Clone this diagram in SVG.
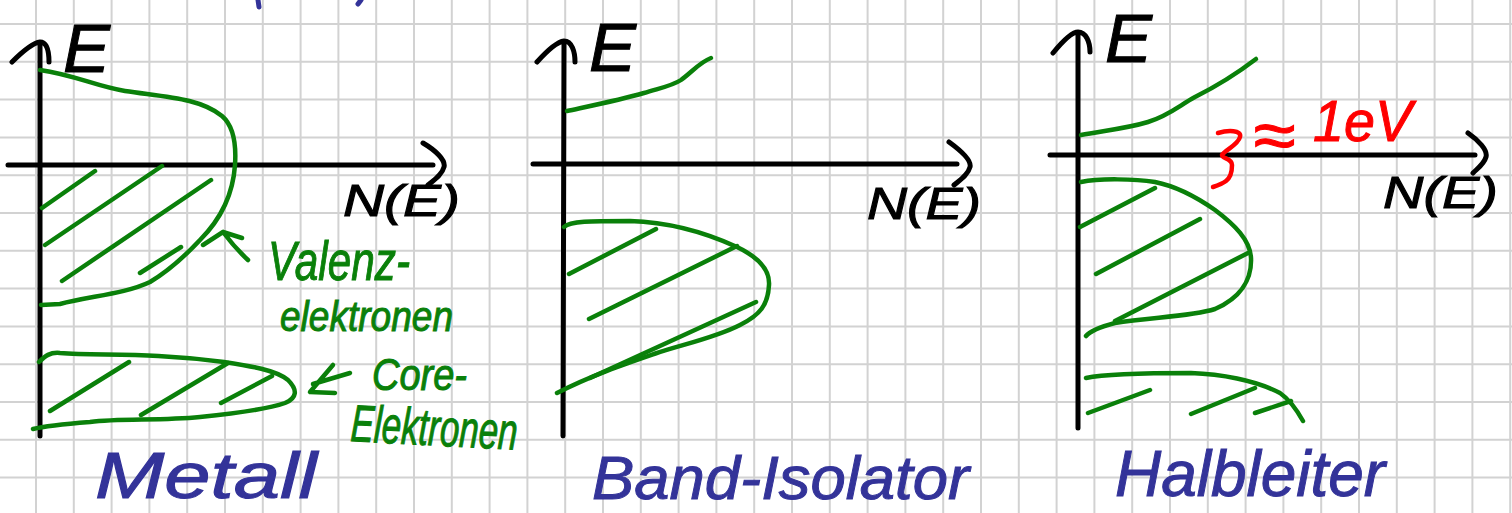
<svg xmlns="http://www.w3.org/2000/svg" width="1512" height="513" viewBox="0 0 1512 513">
<style>
.grid{fill:none;stroke:#d2d2d2;stroke-width:2}
.ax{fill:none;stroke:#000;stroke-width:5;stroke-linecap:round;stroke-linejoin:round}
.gr{fill:none;stroke:#0a800a;stroke-width:4.5;stroke-linecap:round;stroke-linejoin:round}
.rd{fill:none;stroke:#ff0000;stroke-width:4.5;stroke-linecap:round;stroke-linejoin:round}
.bl{fill:none;stroke:#333399;stroke-width:5;stroke-linecap:round}
.tk{font-family:"Liberation Sans","DejaVu Sans",sans-serif;font-style:italic;fill:#000;stroke:#000;stroke-width:1}
.tg{font-family:"Liberation Sans","DejaVu Sans",sans-serif;font-style:italic;fill:#0a800a;stroke:#0a800a;stroke-width:1}
.tb{font-family:"Liberation Sans","DejaVu Sans",sans-serif;font-style:italic;fill:#333399;stroke:#333399;stroke-width:1}
.tr{font-family:"Liberation Sans","DejaVu Sans",sans-serif;font-style:italic;fill:#ff0000;stroke:#ff0000;stroke-width:1}
</style>
<rect x="0" y="0" width="1512" height="513" fill="#ffffff"/>
<path class="grid" d="M36 0V513M73.8 0V513M111.6 0V513M149.4 0V513M187.2 0V513M225 0V513M262.8 0V513M300.6 0V513M338.4 0V513M376.2 0V513M414 0V513M451.8 0V513M489.6 0V513M527.4 0V513M565.2 0V513M603 0V513M640.8 0V513M678.6 0V513M716.4 0V513M754.2 0V513M792 0V513M829.8 0V513M867.6 0V513M905.4 0V513M943.2 0V513M981 0V513M1018.8 0V513M1056.6 0V513M1094.4 0V513M1132.2 0V513M1170 0V513M1207.8 0V513M1245.6 0V513M1283.4 0V513M1321.2 0V513M1359 0V513M1396.8 0V513M1434.6 0V513M1472.4 0V513M1510.2 0V513M0 24H1512M0 61.8H1512M0 99.6H1512M0 137.4H1512M0 175.2H1512M0 213H1512M0 250.8H1512M0 288.6H1512M0 326.4H1512M0 364.2H1512M0 402H1512M0 439.8H1512M0 477.6H1512"/>
<path class="bl" d="M258,0 L259,7 M358,4 L361,0"/>

<g id="metall">
  <g id="metall-axes">
    <path class="ax" d="M40,436 L40,44 M12,62 C22,52 32,43 40,42 C47,42 49,52 49,62"/>
    <path class="ax" d="M8,165 L433,165 M423,143 C435,150 446,160 444,167 C442,175 434,180 428,185"/>
    <text class="tk" x="63" y="72" font-size="68" textLength="47" lengthAdjust="spacingAndGlyphs">E</text>
    <text class="tk" x="343" y="216" font-size="44" textLength="117" lengthAdjust="spacingAndGlyphs">N(E)</text>
  </g>
  <g id="metall-valenz">
    <path class="gr" d="M40,70 C75,75 95,86 125,91 C165,97 200,98 222,116 C236,128 236,150 235,165 C233,195 220,220 200,240 C185,256 170,270 150,282 C125,294 90,296 60,304 L41,305"/>
    <path class="gr" d="M42,208 L95,171 M45,245 L162,166 M62,281 L211,180 M140,273 L181,247"/>
  </g>
  <g id="metall-core">
    <path class="gr" d="M39,362 C45,356 50,352 60,353 C100,356 150,352 224,362 C250,366 276,370 288,380 C298,390 297,398 285,403 C265,410 230,414 200,417 C160,421 120,418 90,422 C65,424 45,426 33,429"/>
    <path class="gr" d="M50,411 L129,362 M141,415 L228,363 M221,403 L272,376"/>
  </g>
  <g id="label-valenz">
    <path class="gr" d="M203,245 L223,232 L242,238 M223,232 Q235,248 248,260"/>
    <text class="tg" x="268" y="280" font-size="56" textLength="142" lengthAdjust="spacingAndGlyphs">Valenz-</text>
    <text class="tg" x="280" y="331" font-size="42" textLength="173" lengthAdjust="spacingAndGlyphs">elektronen</text>
  </g>
  <g id="label-core">
    <path class="gr" d="M333,365 L310,392 L335,393 M313,384 L350,373"/>
    <text class="tg" x="372" y="390" font-size="44" textLength="95" lengthAdjust="spacingAndGlyphs">Core-</text>
    <text class="tg" x="350" y="441" font-size="52" textLength="167" lengthAdjust="spacingAndGlyphs" transform="rotate(3 350 441)">Elektronen</text>
  </g>
  <text class="tb" x="95" y="498" font-size="64" textLength="222" lengthAdjust="spacingAndGlyphs">Metall</text>
</g>

<g id="isolator">
  <g id="isolator-axes">
    <path class="ax" d="M563,436 L564,42 M537,62 C546,52 556,42 564,41 C572,41 575,52 575,62"/>
    <path class="ax" d="M533,164 L957,164 M949,142 C960,150 972,160 970,167 C968,175 960,180 954,185"/>
    <text class="tk" x="589" y="71" font-size="68" textLength="47" lengthAdjust="spacingAndGlyphs">E</text>
    <text class="tk" x="867" y="219" font-size="44" textLength="114" lengthAdjust="spacingAndGlyphs">N(E)</text>
  </g>
  <g id="isolator-leitung">
    <path class="gr" d="M567,111 C590,106 620,100 644,93 C660,88 672,86 681,80 C692,72 700,62 711,58"/>
  </g>
  <g id="isolator-valenz">
    <path class="gr" d="M564,227 C570,221 590,221 630,221 C665,222 700,230 737,247 C760,258 770,270 769,285 C768,305 760,315 740,325 C715,338 680,345 654,354 C625,364 590,376 557,393"/>
    <path class="gr" d="M569,274 L656,229 M589,319 L737,246 M590,378 L756,302"/>
  </g>
  <text class="tb" x="592" y="499" font-size="62" textLength="377" lengthAdjust="spacingAndGlyphs">Band-Isolator</text>
</g>

<g id="halbleiter">
  <g id="halbleiter-axes">
    <path class="ax" d="M1078,428 L1078,34 M1053,53 C1062,42 1072,32 1078,32 C1086,32 1090,42 1090,52"/>
    <path class="ax" d="M1050,155 L1475,155 M1468,133 C1478,140 1488,150 1486,157 C1484,164 1478,168 1473,173"/>
    <text class="tk" x="1105" y="62" font-size="68" textLength="47" lengthAdjust="spacingAndGlyphs">E</text>
    <text class="tk" x="1383" y="208" font-size="44" textLength="115" lengthAdjust="spacingAndGlyphs">N(E)</text>
  </g>
  <g id="halbleiter-leitung">
    <path class="gr" d="M1081,135 C1100,131 1125,129 1148,122 C1170,115 1180,105 1195,97 C1215,87 1235,75 1256,59"/>
  </g>
  <g id="halbleiter-valenz">
    <path class="gr" d="M1081,182 C1100,178 1135,179 1155,182 C1175,186 1195,196 1215,210 C1235,225 1250,240 1251,258 C1252,280 1240,298 1215,309 C1190,317 1150,317 1115,323 C1100,327 1090,331 1086,336"/>
    <path class="gr" d="M1080,227 L1155,188 M1096,274 L1200,219 M1115,321 L1248,253"/>
  </g>
  <g id="halbleiter-core">
    <path class="gr" d="M1086,378 C1100,375 1141,373 1191,373 C1220,374 1255,380 1280,393 C1290,400 1298,412 1303,421"/>
    <path class="gr" d="M1088,413 L1150,390 M1191,414 L1255,388 M1255,413 L1291,401"/>
  </g>
  <g id="gap-label">
    <path class="rd" d="M1218,133 C1228,130 1242,130 1240,137 C1238,145 1225,150 1222,155 C1222,159 1232,158 1232,165 C1232,172 1230,178 1226,181 C1222,184 1216,186 1213,187"/>
    <text class="tr" x="1253" y="159" font-size="70" textLength="42" lengthAdjust="spacingAndGlyphs">≈</text>
    <text class="tr" x="1313" y="141" font-size="58" textLength="99" lengthAdjust="spacingAndGlyphs">1eV</text>
  </g>
  <text class="tb" x="1115" y="496" font-size="64" textLength="270" lengthAdjust="spacingAndGlyphs">Halbleiter</text>
</g>
</svg>
